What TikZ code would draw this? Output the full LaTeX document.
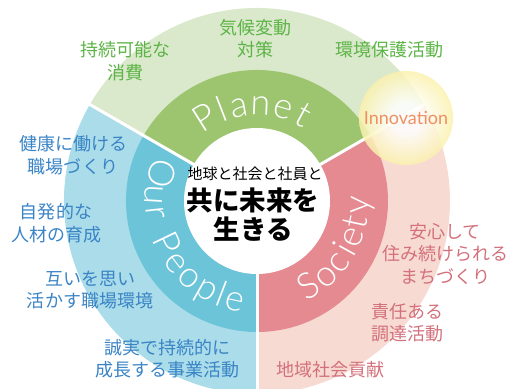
\documentclass[tikz,border=0pt]{standalone}
\usepackage{fontspec}
\usepackage{tikz}
\newfontfamily\jpfont{Noto Sans CJK JP}
\newfontfamily\ringfont{Lato Light}
\newfontfamily\innofont{Lato}
\definecolor{planetlight}{HTML}{DAE9CC}
\definecolor{planetdark}{HTML}{9DC570}
\definecolor{peoplelight}{HTML}{AADCE9}
\definecolor{peopledark}{HTML}{6CC4D9}
\definecolor{societylight}{HTML}{F7DAD2}
\definecolor{societydark}{HTML}{E58A90}
\definecolor{planettext}{HTML}{5DB446}
\definecolor{peopletext}{HTML}{3A84C6}
\definecolor{societytext}{HTML}{D3707C}
\definecolor{innotext}{HTML}{EE9060}
\definecolor{innoyellow}{HTML}{F8E878}
\pgfdeclareradialshading{innoglow}{\pgfpointorigin}{color(0bp)=(white); color(8bp)=(white); color(36bp)=(innoyellow); color(50bp)=(innoyellow)}

\begin{document}
\begin{tikzpicture}[x=1pt, y=1pt,
    ringletter/.style={font=\ringfont\fontsize{36}{36}\selectfont, text=white, inner sep=0pt, anchor=base},
    lbl/.style={font=\jpfont\fontsize{18}{22.5}\selectfont, align=center, inner sep=0pt},
    planetlbl/.style={lbl, text=planettext},
    peoplelbl/.style={lbl, text=peopletext},
    societylbl/.style={lbl, text=societytext},
    divider/.style={draw=white, line width=3pt}]
				\useasboundingbox (0pt, 0pt) rectangle (508pt, -388pt);
				\coordinate (c) at (257pt, -201pt);
				% rings
				\begin{scope}
				\clip (0pt, 0pt) rectangle (508pt, -388pt);
				\fill [planetlight] (c) -- ++(30:193pt) arc [start angle=30, end angle=150, radius=193pt] -- cycle;
				\fill [peoplelight] (c) -- ++(150:193pt) arc [start angle=150, end angle=270, radius=193pt] -- cycle;
				\fill [societylight] (c) -- ++(270:193pt) arc [start angle=270, end angle=390, radius=193pt] -- cycle;
				\fill [planetdark] (c) -- ++(30:131pt) arc [start angle=30, end angle=150, radius=131pt] -- cycle;
				\fill [peopledark] (c) -- ++(150:131pt) arc [start angle=150, end angle=270, radius=131pt] -- cycle;
				\fill [societydark] (c) -- ++(270:131pt) arc [start angle=270, end angle=390, radius=131pt] -- cycle;
				\draw [divider] (c) -- ++(30:194pt);
				\draw [divider] (c) -- ++(150:194pt);
				\draw [divider] (c) -- ++(270:200pt);
				\fill [white] (c) circle [radius=73pt];
				\end{scope}
				% innovation
				\shade [shading=innoglow, fill opacity=0.85] (406pt, -118pt) circle [radius=47pt];
				\node (inno) [font=\innofont\fontsize{18}{18}\selectfont, text=innotext, inner sep=0pt] at (406pt, -118pt) {Innovation};
				% ring titles
				\begin{scope}[shift={(c)}]
				\foreach \ch/\ang [count=\i] in {P/122, l/111, a/100.5, n/87.5, e/74, t/61.5}
					\node (pl\i) [ringletter, rotate=\ang-90] at (\ang:86pt) {\ch};
				\foreach \ch/\ang [count=\i] in {O/164, u/176.5, r/186.5, P/205.5, e/217.5, o/229, p/240.5, l/249, e/257.5}
					\node (op\i) [ringletter, rotate=\ang+90] at (\ang:112pt) {\ch};
				\foreach \ch/\ang [count=\i] in {S/-59, o/-47.5, c/-37, i/-29, e/-21, t/-12, y/-2.5}
					\node (so\i) [ringletter, rotate=\ang+90] at (\ang:112pt) {\ch};
				\end{scope}
				% centre
				\node (sub) [font=\jpfont\fontsize{15}{15}\selectfont, inner sep=0pt] at (255pt, -174pt) {地球と社会と社員と};
				\node (main) [font=\jpfont\bfseries\fontsize{26.5}{29}\selectfont, align=center, inner sep=0pt] at (253pt, -214.5pt) {共に未来を\\生きる};
				% planet
				\node (p1) [planetlbl] at (125pt, -61pt) {持続可能な\\消費};
				\node (p2) [planetlbl] at (255pt, -38.5pt) {気候変動\\対策};
				\node (p3) [planetlbl] at (389pt, -50pt) {環境保護活動};
				% our people
				\node (o1) [peoplelbl] at (73pt, -155pt) {健康に働ける\\職場づくり};
				\node (o2) [peoplelbl] at (56pt, -223pt) {自発的な\\人材の育成};
				\node (o3) [peoplelbl] at (90pt, -290pt) {互いを思い\\活かす職場環境};
				\node (o4) [peoplelbl] at (167pt, -358.5pt) {誠実で持続的に\\成長する事業活動};
				% society
				\node (s1) [societylbl] at (445pt, -254pt) {安心して\\住み続けられる\\まちづくり};
				\node (s2) [societylbl] at (407pt, -322.5pt) {責任ある\\調達活動};
				\node (s3) [societylbl] at (330pt, -370pt) {地域社会貢献};
			\end{tikzpicture}
\end{document}
